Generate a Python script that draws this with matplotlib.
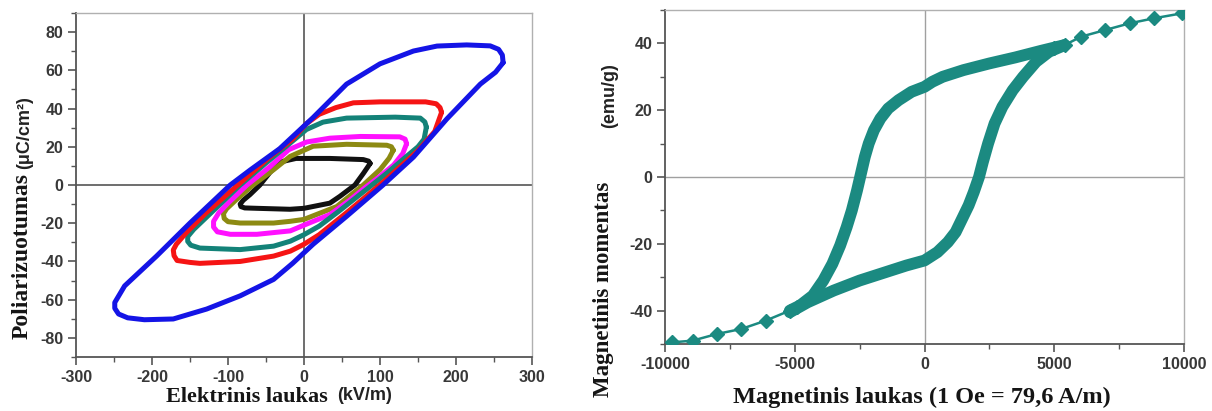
"""Two hysteresis panels: ferroelectric P-E loops (left), magnetic M-H loop (right)."""
import numpy as np
import matplotlib
matplotlib.use("Agg")
import matplotlib.pyplot as plt
from matplotlib.ticker import MultipleLocator


SERIF = "Liberation Serif"
SANS = "Liberation Sans"
plt.rcParams["font.family"] = SANS
plt.rcParams["axes.unicode_minus"] = False

W_PX, H_PX = 1212, 411

# ============================================================
# Left panel: P-E loops, E in kV/m, P in uC/cm^2 (closed loops)
# ============================================================
BLUE_E = [262, 261, 256, 245, 214, 175, 144, 100, 56, 12, -32, -71, -97, -150,
          -194, -236, -249, -249, -244, -232, -210, -172, -128, -84, -40, -15,
          12, 56, 104, 144, 188, 232, 252, 262]
BLUE_P = [64, 68, 71, 72.8, 73.3, 72.7, 70.1, 63.4, 52.8, 35.3, 19, 7.8, 0,
          -19.9, -37.2, -52.8, -61.5, -64.5, -67.5, -69.5, -70.5, -70.1, -64.9,
          -58, -49.4, -41, -31, -16.4, 0, 14.6, 34.6, 52.8, 59, 64]

RED_E = [181, 179, 174, 160, 100, 65, 42, 20, 3, -15, -50, -90, -130, -155,
         -168, -172, -171, -167, -150, -137, -84, -40, -18, 0, 20, 56, 104,
         150, 172, 181]
RED_P = [38, 40.5, 42.5, 43.5, 43.5, 43, 40.5, 37, 32, 24, 13, -1, -15, -25,
         -31, -34, -37, -39.5, -40.5, -41, -40, -37.2, -34.6, -31, -26, -14.5,
         1.5, 18, 28, 38]

TEAL_E = [161, 159, 153, 120, 56, 25, 3, -18, -50, -84, -125, -145, -153, -153,
          -149, -137, -84, -40, -18, 0, 20, 45, 80, 110, 135, 150, 158, 161]
TEAL_P = [30.3, 33, 35, 35.5, 35, 32.9, 29, 22, 11.5, 0, -15.6, -23.2, -27,
          -29.5, -31.5, -33, -33.8, -32, -29.4, -26, -21.5, -14, -3, 6.5, 15,
          20, 24, 30.3]

MAGENTA_E = [135, 133, 126, 74, 34, 3.5, -20, -45, -75, -100, -112, -119, -119,
             -114, -97, -62, -18, 0, 34, 60, 80, 100, 118, 130, 135]
MAGENTA_P = [21.6, 24, 25.2, 25.4, 24.5, 22.5, 18.5, 9.5, 0, -9.5, -14.5, -19,
             -22, -24.5, -25.8, -25.8, -24, -21, -15.5, -8, -1.5, 4.5, 10.5,
             16.5, 21.6]

OLIVE_E = [117.5, 115, 109, 56, 12, -18, -40, -67, -90, -102, -106, -105, -100,
           -84, -40, -18, 0, 43, 78, 100, 112, 117.5]
OLIVE_P = [18.2, 20, 20.8, 21.3, 20.3, 15, 8, 0, -8, -12.5, -15, -17.5, -19.2,
           -19.9, -19.9, -19, -18, -11.3, 0, 8, 14, 18.2]

BLACK_E = [87, 85, 78, 34, -10.5, -31.6, -45, -58, -71, -80, -84, -83, -78,
           -62, -18.4, 0, 34, 47, 67, 78, 84, 87]
BLACK_P = [11.3, 12.5, 13.3, 13.9, 13.9, 12, 6.5, 0, -5, -8, -10, -11.3, -12,
           -12.2, -12.7, -12.2, -9.5, -6, 0, 6, 9.5, 11.3]

# drawn first -> last (blue on top)
PE_LOOPS = [
    (BLACK_E, BLACK_P, "#111111"),
    (OLIVE_E, OLIVE_P, "#8c8a12"),
    (MAGENTA_E, MAGENTA_P, "#ff10ff"),
    (TEAL_E, TEAL_P, "#138278"),
    (RED_E, RED_P, "#f51414"),
    (BLUE_E, BLUE_P, "#1414e6"),
]

# ============================================================
# Right panel: M-H loop, H in Oe, M in emu/g
# ============================================================
DOWN_H = [5400, 4500, 3500, 2500, 1500, 700, 300, 0, -500, -1000, -1400, -1700,
          -1950, -2150, -2300, -2450, -2600, -2800, -3000, -3250, -3550, -3900,
          -4300, -4800, -5190]
DOWN_M = [39.5, 37.8, 35.8, 34, 32, 30, 28.5, 27, 25.5, 23, 20.5, 17.5, 14, 10,
          6, 1, -4, -10, -15, -20.5, -26, -31, -35.5, -38.5, -40]
UP_H = [-5190, -4500, -3500, -2500, -1500, -700, 0, 500, 900, 1200, 1450, 1700,
        1900, 2100, 2250, 2450, 2700, 3000, 3400, 3800, 4300, 4800, 5400]
UP_M = [-40.5, -37.5, -34, -31, -28.5, -26.5, -25, -22.5, -19.5, -16.5, -12.5,
        -8.5, -4.5, 0, 4.5, 10, 16, 21, 26, 30, 34.5, 37.5, 39.5]
TAIL_POS_H = [5000, 5400, 6030, 6960, 7900, 8830, 9920]
TAIL_POS_M = [38.5, 39.5, 42, 44, 46, 47.5, 49]
TAIL_NEG_H = [-4900, -5190, -6120, -7060, -8000, -8940, -9720]
TAIL_NEG_M = [-39, -40, -43, -45.5, -47, -49, -49.5]
MAG_COLOR = "#1b8a81"


def px_box(left, top, right, bottom):
    return [left / W_PX, 1 - bottom / H_PX, (right - left) / W_PX, (bottom - top) / H_PX]


def style_axes(ax):
    for side in ("left", "bottom"):
        ax.spines[side].set_color("#555555")
        ax.spines[side].set_linewidth(1.3)
    for side in ("top", "right"):
        ax.spines[side].set_color("#b0b0b0")
        ax.spines[side].set_linewidth(1.0)
    ax.tick_params(which="both", direction="out", color="#555555",
                   top=False, right=False)
    ax.tick_params(which="major", length=6, width=1.2, pad=3,
                   labelsize=11.5, labelcolor="#383838")
    ax.tick_params(which="minor", length=3.5, width=1.0)
    for lab in ax.get_xticklabels() + ax.get_yticklabels():
        lab.set_fontweight("bold")
        lab.set_family(SANS)


def fig_text(fig, x, y, s, **kw):
    fig.text(x / W_PX, 1 - y / H_PX, s, ha="center", va="center", **kw)


def plot_pe(fig):
    ax = fig.add_axes(px_box(76, 13, 532, 357))
    ax.axhline(0, color="#555555", lw=1.2, zorder=1)
    ax.axvline(0, color="#555555", lw=1.2, zorder=1)
    for e, p, c in PE_LOOPS:
        ax.plot(e, p, color=c, lw=3.6, solid_joinstyle="round",
                solid_capstyle="round", zorder=3)
    ax.set_xlim(-300, 300)
    ax.set_ylim(-90, 90)
    ax.xaxis.set_major_locator(MultipleLocator(100))
    ax.xaxis.set_minor_locator(MultipleLocator(50))
    ax.yaxis.set_major_locator(MultipleLocator(20))
    ax.yaxis.set_minor_locator(MultipleLocator(10))
    style_axes(ax)
    return ax


def plot_mh(fig):
    ax = fig.add_axes(px_box(665, 10, 1184, 344))
    ax.axhline(0, color="#a0a0a0", lw=1.0, zorder=1)
    ax.axvline(0, color="#a0a0a0", lw=1.0, zorder=1)
    # sparse tails: thin line + diamonds
    for h, m in ((TAIL_POS_H, TAIL_POS_M), (TAIL_NEG_H, TAIL_NEG_M)):
        ax.plot(h, m, color=MAG_COLOR, lw=1.8, marker="D", ms=7.5,
                mec=MAG_COLOR, zorder=3)
    # dense branches: thick band
    for h, m in ((DOWN_H, DOWN_M), (UP_H, UP_M)):
        ax.plot(h, m, color=MAG_COLOR, lw=8.5, solid_joinstyle="round",
                solid_capstyle="round", zorder=4)
    ax.set_xlim(-10000, 10000)
    ax.set_ylim(-50, 50)
    ax.xaxis.set_major_locator(MultipleLocator(5000))
    ax.xaxis.set_minor_locator(MultipleLocator(2500))
    ax.yaxis.set_major_locator(MultipleLocator(20))
    ax.yaxis.set_minor_locator(MultipleLocator(10))
    style_axes(ax)
    return ax


def main():
    fig = plt.figure(figsize=(W_PX / 100, H_PX / 100), dpi=100)
    plot_pe(fig)
    plot_mh(fig)

    serif_kw = dict(family=SERIF, fontweight="bold", color="#151515")
    sans_kw = dict(family=SANS, fontweight="bold", color="#222222")

    # left labels
    fig_text(fig, 247, 397, "Elektrinis laukas", fontsize=16, **serif_kw)
    fig_text(fig, 365, 395, "(kV/m)", fontsize=13, **sans_kw)
    fig_text(fig, 22, 256, "Poliarizuotumas", fontsize=17, rotation=90, **serif_kw)
    fig_text(fig, 25, 133, "(\u03bcC/cm\u00b2)", fontsize=13, rotation=90, **sans_kw)

    # right labels
    fig_text(fig, 922, 397, "Magnetinis laukas (1 Oe = 79,6 A/m)", fontsize=17.5, **serif_kw)
    fig_text(fig, 604, 289, "Magnetinis momentas", fontsize=16.5, rotation=90, **serif_kw)
    fig_text(fig, 610, 96, "(emu/g)", fontsize=13, rotation=90, **sans_kw)

    fig.savefig("out.png", dpi=100)
    plt.close(fig)


if __name__ == "__main__":
    main()
